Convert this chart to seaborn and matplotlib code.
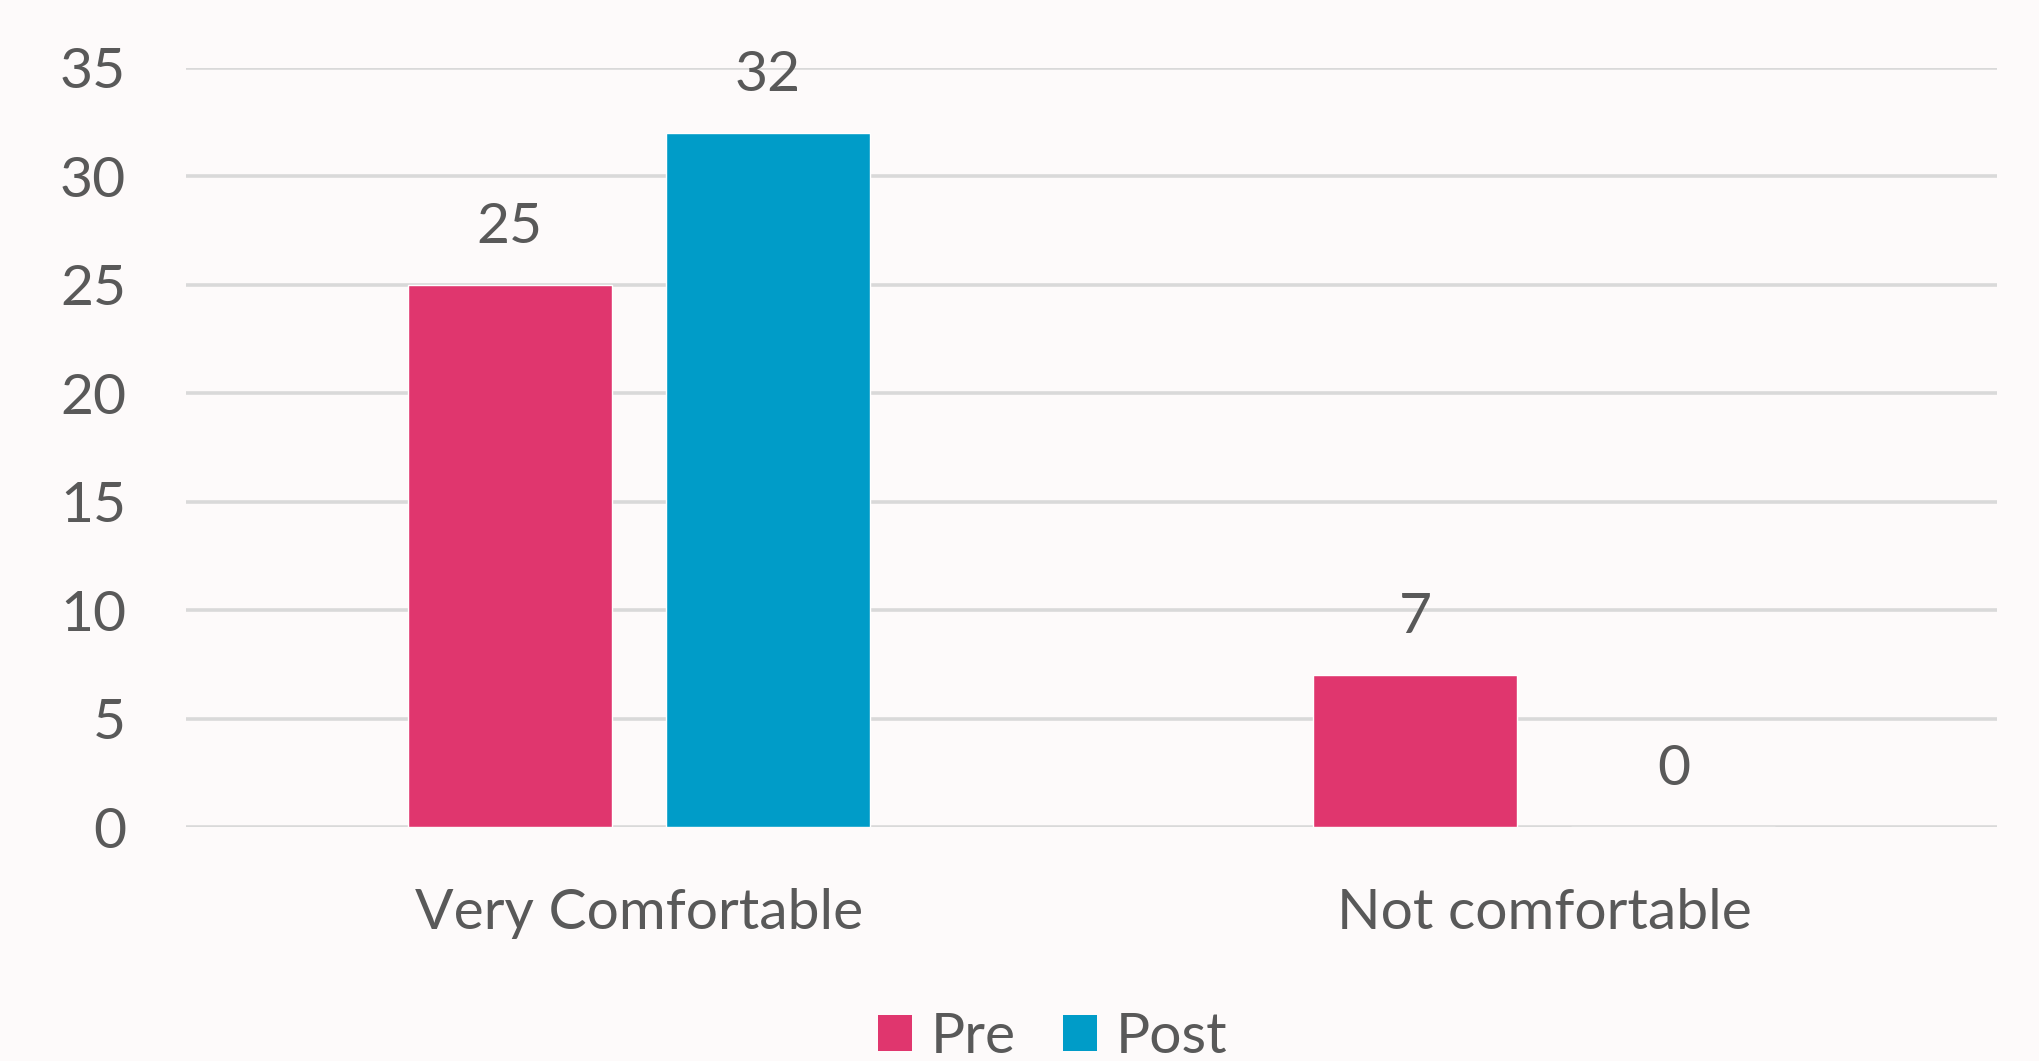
import pandas as pd
import numpy as np
import seaborn as sns
import matplotlib.pyplot as plt
from matplotlib.patches import Patch

categories = ["Very Comfortable", "Not comfortable"]
groups = ["Pre", "Post"]
pre_values = [25, 7]
post_values = [32, 0]

colors = {"Pre": "#E0366E", "Post": "#009CC8"}
text_col = "#595959"
bg = "#FDFAFA"

df = pd.DataFrame({
    "category": categories * 2,
    "group": ["Pre"] * len(categories) + ["Post"] * len(categories),
    "value": pre_values + post_values,
})

sns.set_theme(style="white")
plt.rcParams["font.family"] = ["Lato", "DejaVu Sans"]

fig = plt.figure(figsize=(20.4, 10.61), dpi=100, facecolor=bg)
ax = fig.add_axes([0.0912, 0.2205, 0.8878, 0.7155])
ax.set_facecolor(bg)

sns.barplot(data=df, x="category", y="value", hue="group", hue_order=groups,
            palette=colors, width=0.57, gap=0.21, saturation=1,
            legend=False, ax=ax)

for c in ax.containers:
    ax.bar_label(c, fmt="%d", padding=23, fontsize=41, color=text_col)

ax.set_ylim(0, 35)
ax.set_xlim(-0.5, 1.5)
ax.set_yticks(np.arange(0, 36, 5))
ax.yaxis.grid(True, color="#D9D9D9", lw=2.6)
ax.set_axisbelow(True)
for s in ax.spines.values():
    s.set_visible(False)
ax.tick_params(axis="both", length=0, labelsize=41, labelcolor=text_col)
ax.tick_params(axis="y", pad=43)
ax.tick_params(axis="x", pad=44)
ax.set_xlabel("")
ax.set_ylabel("")

handles = [Patch(facecolor=colors[g], edgecolor="none", label=g) for g in groups]
fig.legend(handles=handles, loc="center", bbox_to_anchor=(0.516, 0.022), ncol=2,
           frameon=False, fontsize=41, labelcolor=text_col,
           handlelength=0.6, handleheight=0.6, handletextpad=0.32,
           columnspacing=0.84, borderpad=0)

fig.savefig("out.png", dpi=100, facecolor=bg)
